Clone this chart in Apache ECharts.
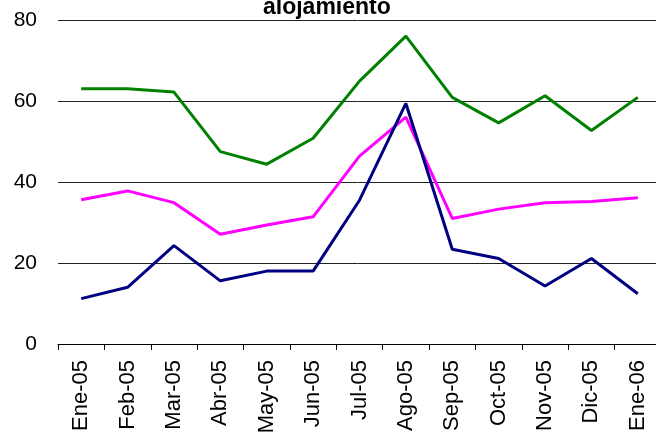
<!DOCTYPE html>
<html>
<head>
<meta charset="utf-8">
<script src="https://cdn.jsdelivr.net/npm/echarts@6/dist/echarts.min.js"></script>
<style>
  html, body { margin: 0; padding: 0; background: #fff; }
  #main { width: 656px; height: 432px; }
</style>
</head>
<body>
<div id="main"></div>
<script>
// datos
var meses = ['Ene-05', 'Feb-05', 'Mar-05', 'Abr-05', 'May-05', 'Jun-05', 'Jul-05',
  'Ago-05', 'Sep-05', 'Oct-05', 'Nov-05', 'Dic-05', 'Ene-06']
var serieVerde = [63.0, 63.0, 62.2, 47.5, 44.4, 50.8, 64.9, 76.0, 60.9, 54.6, 61.3, 52.7, 60.9]
var serieMagenta = [35.6, 37.8, 34.9, 27.1, 29.4, 31.4, 46.4, 56.0, 31.0, 33.3, 34.9, 35.2, 36.1]
var serieAzul = [11.2, 14.0, 24.3, 15.6, 18.0, 18.0, 35.5, 59.4, 23.4, 21.1, 14.3, 21.1, 12.4]

var fuente = 'Liberation Sans, Arial, sans-serif'

var myChart = echarts.init(document.getElementById('main'))

function linea (nombre, datos, color) {
  return {
    name: nombre,
    type: 'line',
    data: datos,
    symbol: 'none',
    lineStyle: { color: color, width: 3 },
    itemStyle: { color: color },
    animation: false
  }
}

myChart.setOption({
  backgroundColor: '#fff',
  title: {
    text: 'alojamiento',
    left: 258,
    top: -9,
    textStyle: { fontFamily: fuente, fontSize: 23, fontWeight: 'bold', color: '#000' }
  },
  grid: { left: 58, top: 20, width: 603, height: 324, outerBoundsMode: 'none', containLabel: false },
  xAxis: {
    type: 'category',
    data: meses,
    boundaryGap: true,
    axisLine: { lineStyle: { color: '#000', width: 1 } },
    axisTick: { show: true, length: 6, lineStyle: { color: '#000' } },
    axisLabel: {
      interval: 0,
      rotate: 90,
      margin: 16,
      fontFamily: fuente,
      fontSize: 22,
      color: '#000'
    }
  },
  yAxis: {
    type: 'value',
    min: 0,
    max: 80,
    interval: 20,
    axisLine: { show: false },
    axisTick: { show: false },
    axisLabel: { margin: 21, fontFamily: fuente, fontSize: 21, color: '#000' },
    splitLine: { lineStyle: { color: '#222', width: 1 } }
  },
  series: [
    linea('verde', serieVerde, '#008000'),
    linea('magenta', serieMagenta, '#ff00ff'),
    linea('azul', serieAzul, '#000080')
  ]
})
</script>
</body>
</html>
